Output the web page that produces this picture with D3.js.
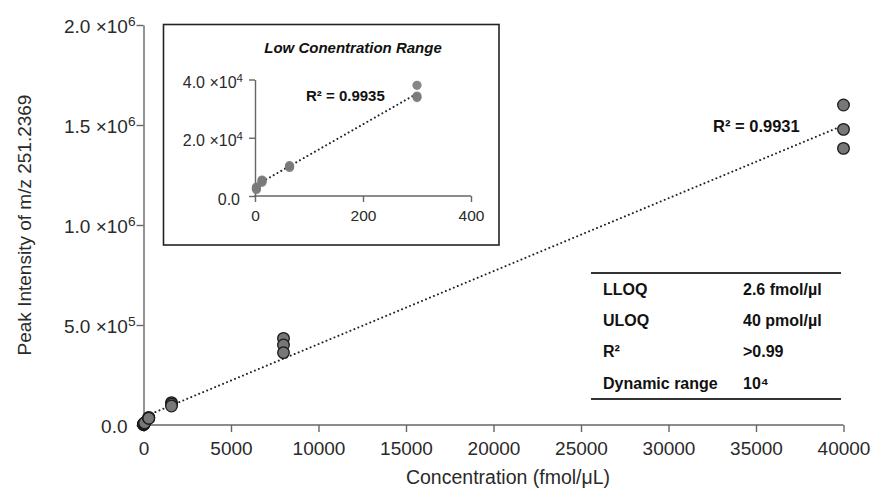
<!DOCTYPE html>
<html>
<head>
<meta charset="utf-8">
<script src="https://cdn.jsdelivr.net/npm/d3@7"></script>
<style>
  body { margin: 0; background: #fff; }
  svg { display: block; font-family: "Liberation Sans", Arial, sans-serif; }
</style>
</head>
<body>
<svg id="chart" width="872" height="492"></svg>
<script>
// calibration data (fmol/uL vs peak intensity), three replicates per level
const concentrations = [2.6, 13, 64, 300, 1600, 8000, 40000];
const replicate1 = [2700, 5200, 10400, 38000, 112000, 433000, 1600000];
const replicate2 = [2200, 4700, 9800, 34300, 104000, 400000, 1478000];
const replicate3 = [3100, 5500, 10200, 33800, 95000, 362000, 1383000];

// fitted lines: [slope, intercept]
const mainFit = [36.46, 40000];
const insetFit = [105.6, 3500];

const mainXTicks = [0, 5000, 10000, 15000, 20000, 25000, 30000, 35000, 40000];
const mainYTicks = [0, 500000, 1000000, 1500000, 2000000];
const insetXTicks = [0, 200, 400];
const insetYTicks = [0, 20000, 40000];
const insetMaxConc = 300;

const tableLabels = ['LLOQ', 'ULOQ', 'R²', 'Dynamic range'];
const tableValues = ['2.6 fmol/µl', '40 pmol/µl', '>0.99', '10⁴'];

const points = [];
concentrations.forEach((c, i) => {
    [replicate1, replicate2, replicate3].forEach(r => points.push({ x: c, y: r[i] }));
});

const svg = d3.select('#chart');
const axisColor = '#666';
const textColor = '#2a2a2a';

// tick label like "1.5 ×10⁶" with a raised exponent; zero is written "0.0"
function sciLabel(t, v, size, zeroShift) {
    t.text(null);
    if (v === 0) { t.append('tspan').attr('dx', -zeroShift).text('0.0'); return; }
    const [m, e] = v.toExponential(1).split('e');
    t.append('tspan').text(m + ' ×10');
    t.append('tspan').attr('dy', -size * 0.38).attr('font-size', size * 0.72).text(+e);
}

function styleAxis(g) {
    g.select('.domain').attr('stroke', axisColor).attr('stroke-width', 1.4);
    g.selectAll('.tick line').attr('stroke', axisColor).attr('stroke-width', 1.4);
    g.selectAll('.tick text').attr('fill', textColor).attr('font-family', null);
}

// ---- main plot ----
const x = d3.scaleLinear().domain([0, 40000]).range([143.5, 843.5]);
const y = d3.scaleLinear().domain([0, 2000000]).range([425, 25]);

const xAxis = svg.append('g')
    .attr('transform', `translate(0,${y(0)})`)
    .call(d3.axisBottom(x).tickValues(mainXTicks).tickSize(7).tickSizeOuter(0).tickPadding(10).tickFormat(d3.format('d')))
    .call(styleAxis);
xAxis.selectAll('.tick text').attr('font-size', 19);
xAxis.select('.domain').attr('d', `M${x(0) - 1},0H${x(40000)}`);

const yAxis = svg.append('g')
    .attr('transform', `translate(${x(0)},0)`)
    .call(d3.axisLeft(y).tickValues(mainYTicks).tickSize(7).tickSizeOuter(0).tickPadding(1))
    .call(styleAxis);
yAxis.selectAll('.tick text')
    .attr('font-size', 19).attr('dy', '0.42em')
    .each(function(d) { sciLabel(d3.select(this), d, 19, 8); });

svg.append('text')
    .attr('transform', `translate(26,225) rotate(-90)`)
    .attr('text-anchor', 'middle').attr('dominant-baseline', 'middle')
    .attr('font-size', 19).attr('fill', textColor)
    .text('Peak Intensity of m/z 251.2369');

svg.append('text')
    .attr('x', 508).attr('y', 484)
    .attr('text-anchor', 'middle')
    .attr('font-size', 19.5).attr('fill', textColor)
    .text('Concentration (fmol/μL)');

const dotted = { stroke: '#222', width: 2, dash: '0.01 4.3' };

svg.append('line')
    .attr('x1', x(0)).attr('y1', y(mainFit[1]))
    .attr('x2', x(40000)).attr('y2', y(mainFit[0] * 40000 + mainFit[1]))
    .attr('stroke', dotted.stroke).attr('stroke-width', dotted.width)
    .attr('stroke-linecap', 'round').attr('stroke-dasharray', dotted.dash);

svg.append('g').selectAll('circle')
    .data(points)
    .join('circle')
    .attr('cx', d => x(d.x)).attr('cy', d => y(d.y)).attr('r', 5.8)
    .attr('fill', '#777').attr('stroke', '#1a1a1a').attr('stroke-width', 1.3);

svg.append('text')
    .attr('x', 713).attr('y', 132)
    .attr('font-size', 16.5).attr('font-weight', 'bold').attr('fill', '#111')
    .text('R² = 0.9931');

// ---- summary table ----
const table = svg.append('g');
const rowY = d3.scalePoint().domain(tableLabels).range([289, 383]);
table.append('line').attr('x1', 591).attr('x2', 841).attr('y1', 273).attr('y2', 273)
    .attr('stroke', '#333').attr('stroke-width', 2);
table.append('line').attr('x1', 591).attr('x2', 841).attr('y1', 399).attr('y2', 399)
    .attr('stroke', '#333').attr('stroke-width', 2);
table.selectAll('text.lab')
    .data(tableLabels)
    .join('text').attr('class', 'lab')
    .attr('x', 603).attr('y', d => rowY(d)).attr('dy', '0.36em')
    .attr('font-size', 16).attr('font-weight', 'bold').attr('fill', '#111')
    .text(d => d);
table.selectAll('text.val')
    .data(tableValues)
    .join('text').attr('class', 'val')
    .attr('x', 743).attr('y', (d, i) => rowY(tableLabels[i])).attr('dy', '0.36em')
    .attr('font-size', 16).attr('font-weight', 'bold').attr('fill', '#111')
    .text(d => d);

// ---- inset: low concentration range ----
svg.append('rect')
    .attr('x', 163.5).attr('y', 24.5).attr('width', 335.5).attr('height', 220.5)
    .attr('fill', '#fff').attr('stroke', '#222').attr('stroke-width', 1.6);

svg.append('text')
    .attr('x', 353).attr('y', 53)
    .attr('text-anchor', 'middle')
    .attr('font-size', 15).attr('font-weight', 'bold').attr('font-style', 'italic').attr('fill', '#111')
    .text('Low Conentration Range');

const ix = d3.scaleLinear().domain([0, 400]).range([255, 471]);
const iy = d3.scaleLinear().domain([0, 40000]).range([196, 79.5]);

const ixAxis = svg.append('g')
    .attr('transform', `translate(0,${iy(0)})`)
    .call(d3.axisBottom(ix).tickValues(insetXTicks).tickSize(6).tickSizeOuter(0).tickPadding(8).tickFormat(d3.format('d')))
    .call(styleAxis);
ixAxis.selectAll('.tick text').attr('font-size', 15.5);
ixAxis.select('.domain').attr('d', `M${ix(0) - 1},0H${ix(400)}`);

const iyAxis = svg.append('g')
    .attr('transform', `translate(${ix(0)},0)`)
    .call(d3.axisLeft(iy).tickValues(insetYTicks).tickSize(6).tickSizeOuter(0).tickPadding(6))
    .call(styleAxis);
iyAxis.selectAll('.tick text')
    .attr('font-size', 16).attr('dy', '0.5em')
    .each(function(d) { sciLabel(d3.select(this), d, 16, 3); });

const insetPoints = points.filter(d => d.x <= insetMaxConc);

svg.append('line')
    .attr('x1', ix(0)).attr('y1', iy(insetFit[1]))
    .attr('x2', ix(insetMaxConc)).attr('y2', iy(insetFit[0] * insetMaxConc + insetFit[1]))
    .attr('stroke', dotted.stroke).attr('stroke-width', dotted.width)
    .attr('stroke-linecap', 'round').attr('stroke-dasharray', dotted.dash);

svg.append('g').selectAll('circle')
    .data(insetPoints)
    .join('circle')
    .attr('cx', d => ix(d.x)).attr('cy', d => iy(d.y)).attr('r', 4.6)
    .attr('fill', '#7a7a7a').attr('fill-opacity', 0.9);

svg.append('text')
    .attr('x', 306).attr('y', 101)
    .attr('font-size', 15).attr('font-weight', 'bold').attr('fill', '#111')
    .text('R² = 0.9935');
</script>
</body>
</html>
